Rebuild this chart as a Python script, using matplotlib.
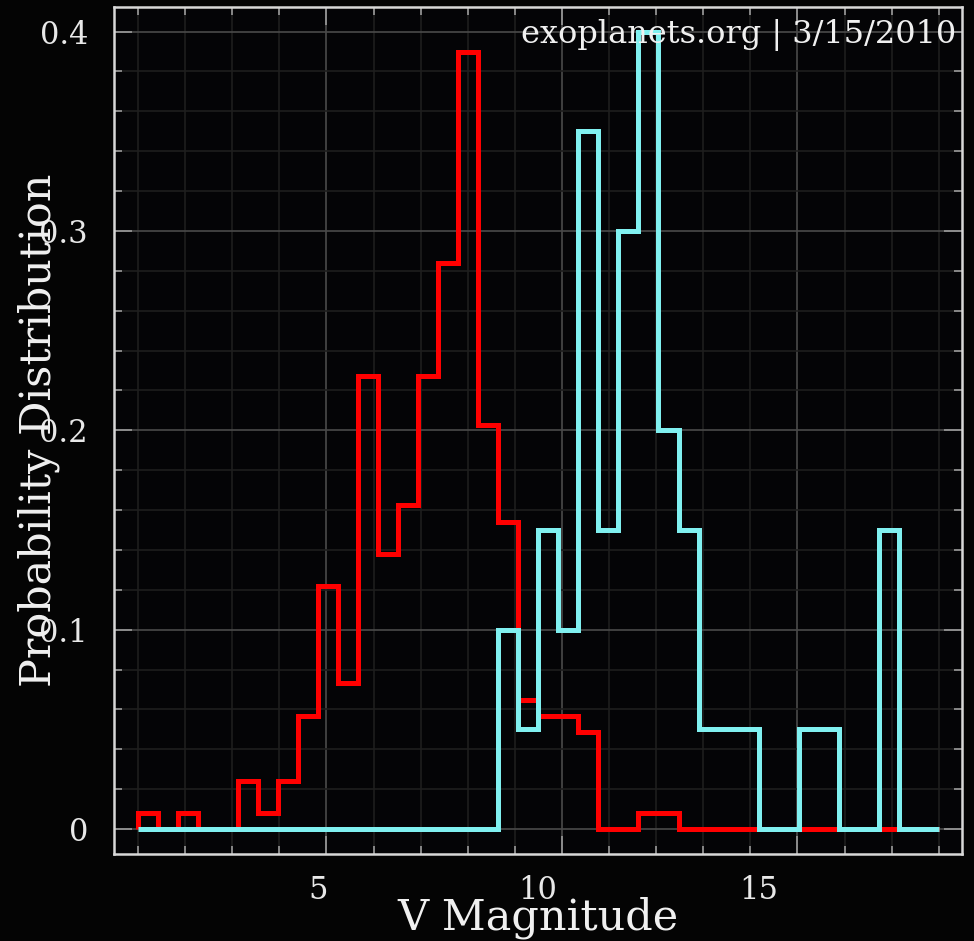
import matplotlib
matplotlib.use("Agg")
import matplotlib.pyplot as plt
import matplotlib.transforms as mtransforms
import numpy as np
from matplotlib.ticker import MultipleLocator

# histogram bins: 40 bins between V = 1 and V = 18
bin_lo, bin_hi, n_bins = 1.0, 18.0, 40

# red series (probability density per bin)
red_vals = [0.0081, 0, 0.0081, 0, 0, 0.0243, 0.0081, 0.0243, 0.0568, 0.1217,
            0.0730, 0.2272, 0.1379, 0.1623, 0.2272, 0.2840, 0.3895, 0.2028, 0.1542, 0.0649,
            0.0568, 0.0568, 0.0487, 0, 0, 0.0081, 0.0081, 0, 0, 0,
            0, 0, 0, 0, 0, 0, 0, 0, 0, 0]

# cyan series
cyan_vals = [0, 0, 0, 0, 0, 0, 0, 0, 0, 0,
             0, 0, 0, 0, 0, 0, 0, 0, 0.10, 0.05,
             0.15, 0.10, 0.35, 0.15, 0.30, 0.40, 0.20, 0.15, 0.05, 0.05,
             0.05, 0, 0, 0.05, 0.05, 0, 0, 0.15, 0, 0]

x_ticks = [5, 10, 15]
y_ticks = [0, 0.1, 0.2, 0.3, 0.4]
y_ticklabels = ["0", "0.1", "0.2", "0.3", "0.4"]
stamp = "exoplanets.org | 3/15/2010"

plt.rcParams['font.family'] = ['DejaVu Serif']

fig = plt.figure(figsize=(9.74, 9.41), dpi=100, facecolor='#040404')
ax = fig.add_axes([0.1175, 0.0925, 0.8705, 0.9005])
ax.set_facecolor('#040406')

edges = np.linspace(bin_lo, bin_hi, n_bins + 1)
ax.stairs(red_vals, edges, color='#ff0000', lw=3.6, baseline=0, zorder=3)
ax.stairs(cyan_vals, edges, color='#80f0f0', lw=3.6, baseline=0, zorder=4)

ax.set_xlim(0.5, 18.5)
ax.set_ylim(-0.0125, 0.4125)

ax.set_xticks(x_ticks)
ax.set_yticks(y_ticks)
ax.set_yticklabels(y_ticklabels)
ax.xaxis.set_minor_locator(MultipleLocator(1))
ax.yaxis.set_minor_locator(MultipleLocator(0.02))

ax.grid(which='major', color='#4a4a4a', lw=1.2, zorder=0)
ax.grid(which='minor', color='#1e1e1e', lw=1.2, zorder=0)
ax.set_axisbelow(True)

ax.tick_params(which='both', direction='in', top=True, right=True,
               colors='#9a9a9a', labelcolor='#e8e8e8', labelsize=22)
ax.tick_params(which='major', length=13, width=1.2)
ax.tick_params(which='minor', length=6, width=1.2)
ax.tick_params(axis='y', which='major', pad=19)
ax.tick_params(axis='x', which='major', pad=15)

# the source's x tick labels sit a little left of their ticks
for lab, dx in zip(ax.get_xticklabels(), [-8, -24, -39]):
    lab.set_transform(lab.get_transform() +
                      mtransforms.ScaledTranslation(dx / 100, 0, fig.dpi_scale_trans))

for sp in ax.spines.values():
    sp.set_color('#d8d8d8')
    sp.set_linewidth(1.8)

ax.set_xlabel("V Magnitude", fontsize=31, color='#f0f0f0')
ax.set_ylabel("Probability Distribution", fontsize=31, color='#f0f0f0')
ax.xaxis.set_label_coords(0.5, -0.0505)
ax.yaxis.set_label_coords(-0.064, 0.5)

ax.text(0.993, 0.985, stamp, transform=ax.transAxes, ha='right', va='top',
        fontsize=23, color='#f0f0f0', zorder=6)

fig.savefig("out.png", dpi=100, facecolor=fig.get_facecolor())
